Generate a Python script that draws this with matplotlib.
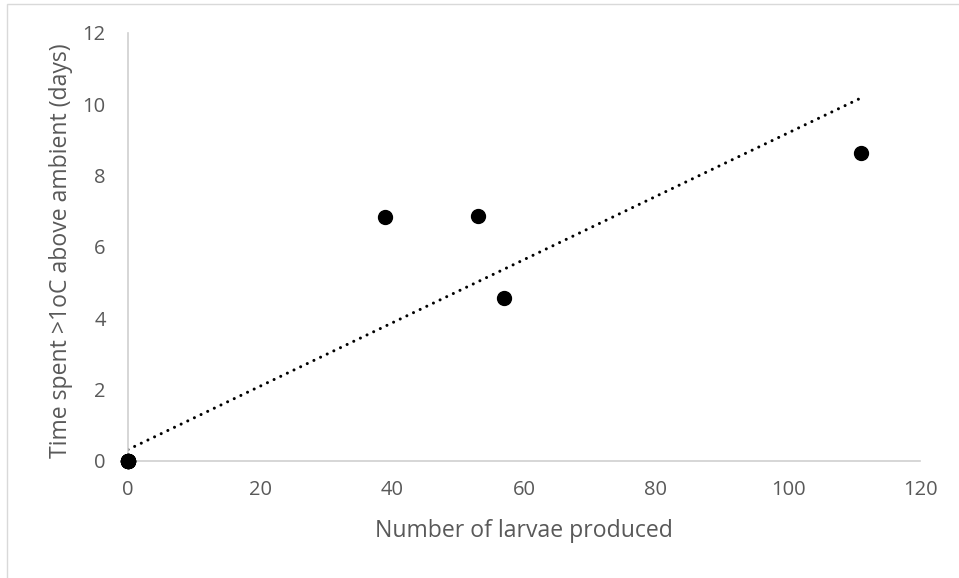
import matplotlib
matplotlib.use("Agg")
import matplotlib.pyplot as plt
import numpy as np
from matplotlib.patches import Rectangle

# Data (several points overlap at the origin)
larvae = [0, 0, 0, 0, 0, 0, 0, 0, 39, 53, 57, 111]
days = [0, 0, 0, 0, 0, 0, 0, 0, 6.85, 6.87, 4.57, 8.63]
x_ticks = [0, 20, 40, 60, 80, 100, 120]
y_ticks = [0, 2, 4, 6, 8, 10, 12]
x_label = "Number of larvae produced"
y_label = "Time spent >1oC above ambient (days)"

plt.rcParams['font.family'] = ['Open Sans', 'DejaVu Sans']

W, H = 959, 578
fig = plt.figure(figsize=(W / 100, H / 100), dpi=100)
fig.patches.append(Rectangle((7 / W, -0.1), 1.2, (H - 4) / H + 0.1,
                             transform=fig.transFigure, fill=False,
                             edgecolor='#d9d9d9', linewidth=1.0))

ax = fig.add_axes([128 / W, (H - 461) / H, (920 - 128) / W, (461 - 33) / H])

x = np.array(larvae, dtype=float)
y = np.array(days, dtype=float)
slope, intercept = np.polyfit(x, y, 1)
xl = np.array([0, x.max()])
ax.plot(xl, slope * xl + intercept, color='black', linewidth=2.2,
        linestyle=(0, (0.01, 2.4)), dash_capstyle='round', zorder=2)
ax.plot(x, y, 'o', color='black', markersize=10, zorder=3, clip_on=False)

ax.set_xlim(0, 120)
ax.set_ylim(0, 12)
ax.set_xticks(x_ticks)
ax.set_yticks(y_ticks)
for s in ['top', 'right']:
    ax.spines[s].set_visible(False)
for s in ['left', 'bottom']:
    ax.spines[s].set_color('#d0d0d0')
    ax.spines[s].set_linewidth(1.2)
ax.tick_params(axis='both', length=0, labelsize=14.5, labelcolor='#595959')
ax.tick_params(axis='x', pad=14)
ax.tick_params(axis='y', pad=16)

ax.set_xlabel(x_label, fontsize=16.6, color='#595959')
ax.set_ylabel(y_label, fontsize=16.6, color='#595959')
ax.xaxis.set_label_coords((524 - 128) / (920 - 128), -(531 - 461) / (461 - 33))
ax.yaxis.set_label_coords(-(128 - 61) / (920 - 128), (461 - 251) / (461 - 33))
ax.xaxis.label.set_va('center')
ax.yaxis.label.set_va('center')

fig.savefig("out.png", dpi=100)
